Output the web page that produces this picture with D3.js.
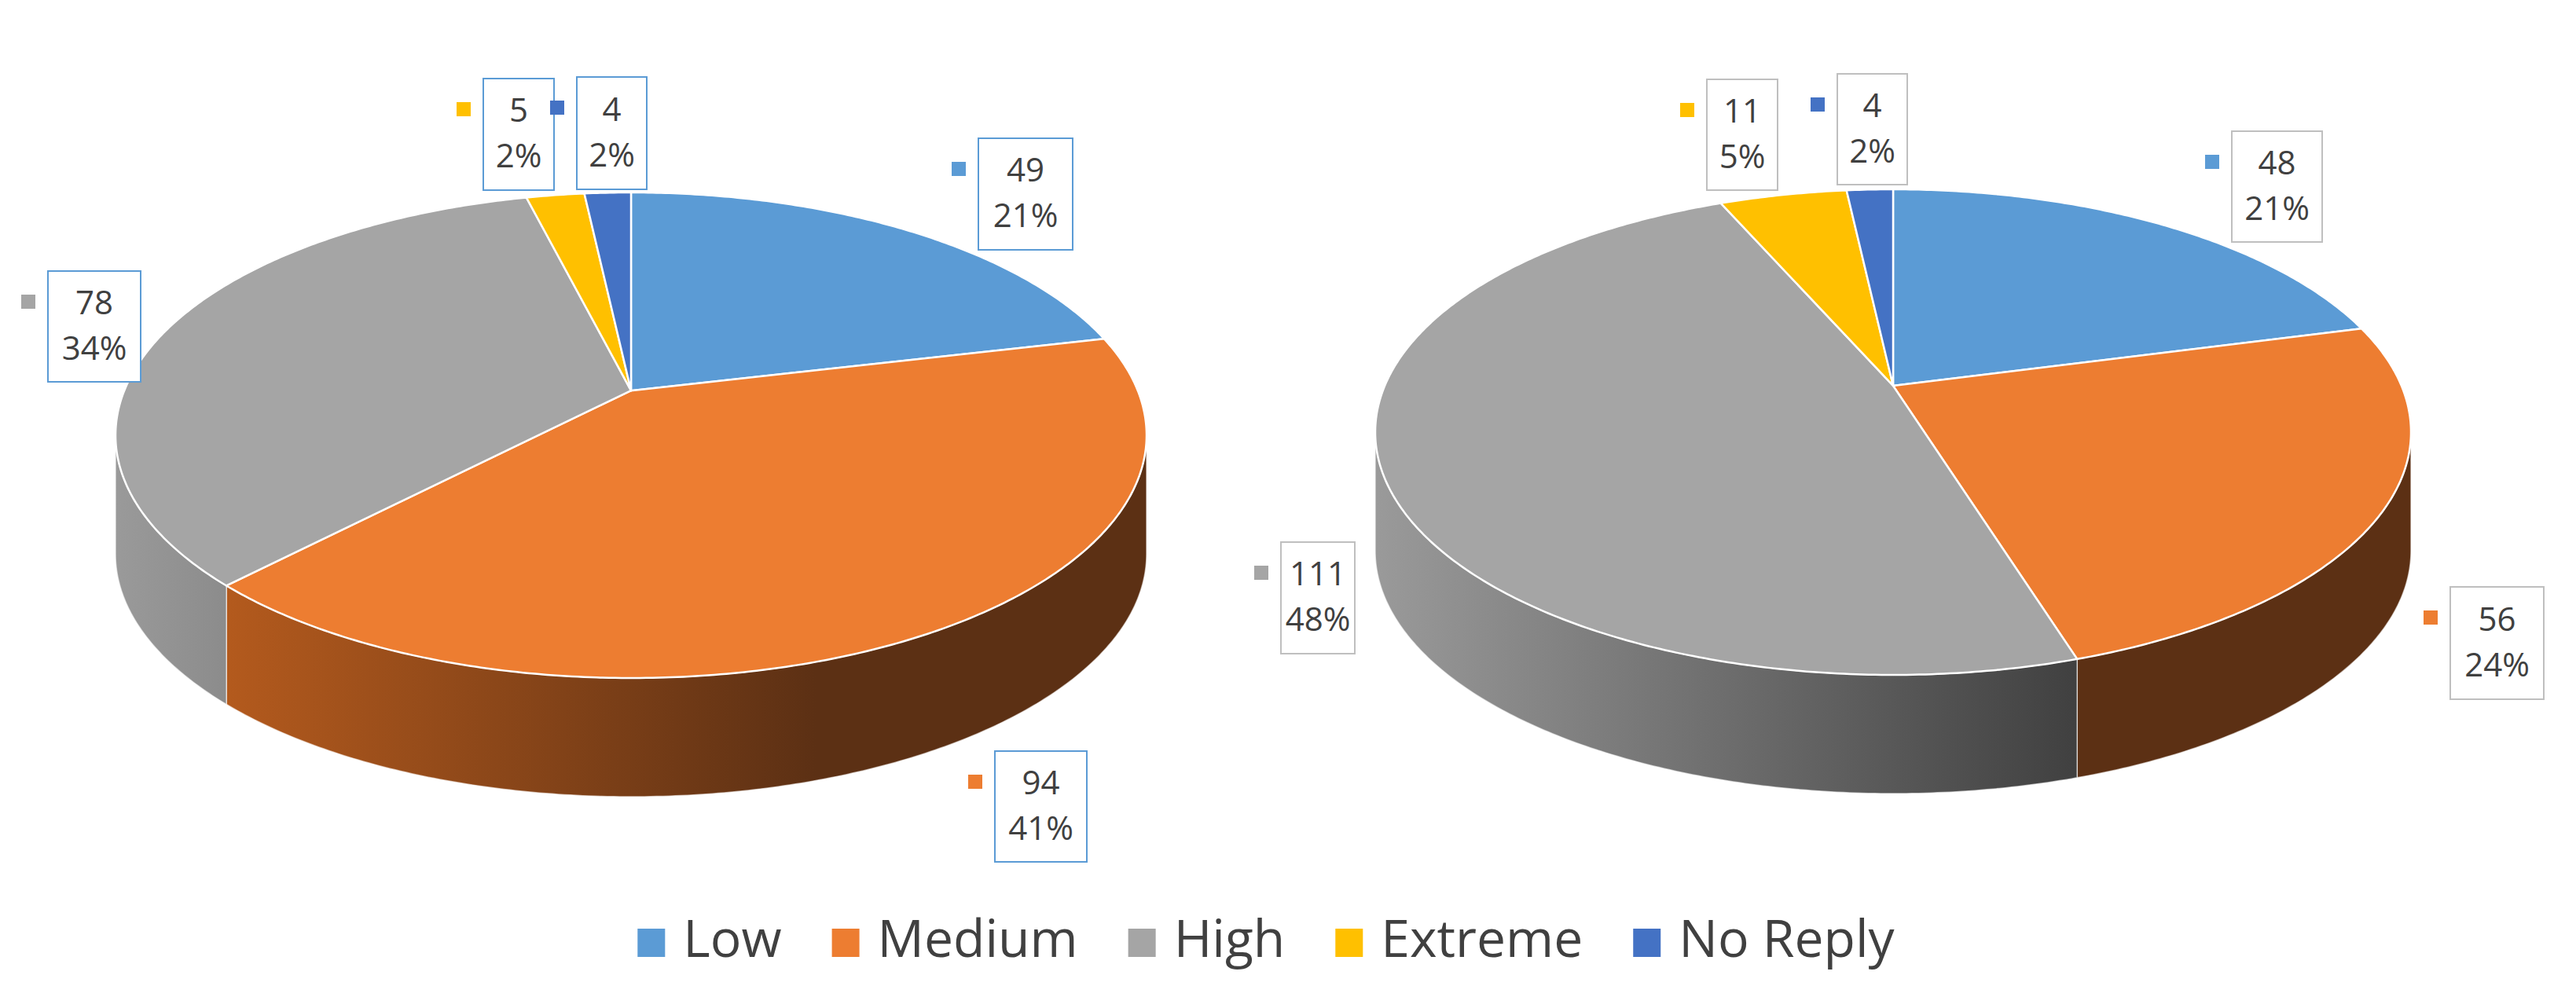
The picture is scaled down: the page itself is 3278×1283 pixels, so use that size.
<!DOCTYPE html>
<html lang="en"><head>
<meta charset="utf-8">
<title>Pie charts</title>
<script src="https://cdnjs.cloudflare.com/ajax/libs/d3/7.8.5/d3.min.js"></script>
<style>
  body { margin: 0; background: #fff; }
  text { font-family: "Open Sans", sans-serif; fill: #404040; }
</style>
</head>
<body>
<svg id="chart" width="3278" height="1283"></svg>
<script>
// data
const categories = ["Low", "Medium", "High", "Extreme", "No Reply"]
const colors = ["#5b9bd5", "#ed7d31", "#a5a5a5", "#ffc000", "#4472c4"]
const leftValues = [49, 94, 78, 5, 4]
const rightValues = [48, 56, 111, 11, 4]
const leftPercents = ["21%", "41%", "34%", "2%", "2%"]
const rightPercents = ["21%", "24%", "48%", "5%", "2%"]

// per-chart layout: ellipse, perspective shift, depth and label boxes [x, y, w, h]
const pies = [
  {values: leftValues, percents: leftPercents, cx: 803, cy: 554, rx: 656, ry: 309, k: -0.184,
   depth: 151, border: "#5b9bd5", gx0: 146, gx1: 1459,
   boxes: [[1245,176,120,142],[1266,956,117,141],[61,345,118,141],[615,100,90,142],[734,98,89,143]]},
  {values: rightValues, percents: rightPercents, cx: 2409, cy: 550, rx: 659, ry: 309, k: -0.191,
   depth: 151, border: "#bfbfbf", gx0: 1750, gx1: 3068,
   boxes: [[2840,167,115,141],[3118,747,119,143],[1630,690,94,142],[2172,101,90,141],[2338,94,89,141]]}
]
const sideLight = {"#ed7d31": "#c4621f", "#a5a5a5": "#9a9a9a", "#5b9bd5": "#3f78ad", "#ffc000": "#c79600", "#4472c4": "#2f5597"}
const sideDark = {"#ed7d31": "#5c3014", "#a5a5a5": "#404040", "#5b9bd5": "#24476a", "#ffc000": "#7a5c00", "#4472c4": "#1c3461"}

const svg = d3.select("#chart")
const defs = svg.append("defs")
const line = d3.line()
const pie = d3.pie().sort(null)

// projected point of the pie's rim (tilted circle seen in perspective)
function pt(p, a, dy) {
  const u = Math.sin(a), v = -Math.cos(a), k = p.k
  const den = 1 + k * v
  return [p.cx + p.rx * u * Math.sqrt(1 - k * k) / den, p.cy + p.ry * (v + k) / den + dy]
}
function arcPts(p, a0, a1, dy) {
  const n = Math.max(2, Math.ceil((a1 - a0) / 0.01))
  return d3.range(n + 1).map(i => pt(p, a0 + (a1 - a0) * i / n, dy))
}

pies.forEach((p, pi) => {
  const arcs = pie(p.values)
  const g = svg.append("g")
  const apex = [p.cx, p.cy + p.ry * p.k]
  const frontA0 = Math.acos(p.k), frontA1 = 2 * Math.PI - Math.acos(p.k)

  colors.forEach((c, ci) => {
    const gr = defs.append("linearGradient").attr("id", `side${pi}_${ci}`)
      .attr("gradientUnits", "userSpaceOnUse")
      .attr("x1", p.gx0).attr("x2", p.gx1).attr("y1", 0).attr("y2", 0)
    gr.append("stop").attr("offset", 0).attr("stop-color", sideLight[c])
    gr.append("stop").attr("offset", 0.68).attr("stop-color", sideDark[c])
    gr.append("stop").attr("offset", 1).attr("stop-color", sideDark[c])
  })

  // side walls (visible front part only)
  arcs.forEach((d, i) => {
    const a0 = Math.max(d.startAngle, frontA0)
    const a1 = Math.min(d.endAngle, frontA1)
    if (a1 <= a0) return
    const top = arcPts(p, a0, a1, 0)
    const bot = arcPts(p, a0, a1, p.depth).reverse()
    g.append("path").attr("d", line(top.concat(bot)) + "Z")
      .attr("fill", `url(#side${pi}_${i})`)
      .attr("stroke", "#fff").attr("stroke-width", 1.5).attr("stroke-opacity", 0.6)
  })

  // top faces
  arcs.forEach((d, i) => {
    const pts = [apex].concat(arcPts(p, d.startAngle, d.endAngle, 0))
    g.append("path").attr("d", line(pts) + "Z")
      .attr("fill", colors[i]).attr("stroke", "#fff").attr("stroke-width", 2.5)
      .attr("stroke-linejoin", "round")
  })

  // labels
  p.boxes.forEach((b, i) => {
    const [x, y, w, h] = b
    g.append("rect").attr("x", x).attr("y", y).attr("width", w).attr("height", h)
      .attr("fill", "#fff").attr("stroke", p.border).attr("stroke-width", 2)
    g.append("rect").attr("x", x - 34).attr("y", y + 30).attr("width", 18).attr("height", 18)
      .attr("fill", colors[i])
    g.append("text").attr("x", x + w / 2).attr("y", y + h * 0.31)
      .attr("text-anchor", "middle").attr("dominant-baseline", "middle")
      .attr("font-size", 42).text(p.values[i])
    g.append("text").attr("x", x + w / 2).attr("y", y + h * 0.72)
      .attr("text-anchor", "middle").attr("dominant-baseline", "middle")
      .attr("font-size", 42).text(p.percents[i])
  })
})

// legend, centered
const legend = svg.append("g")
const items = categories.map((c, i) => {
  const it = legend.append("g")
  it.append("rect").attr("x", 0).attr("y", -18).attr("width", 35).attr("height", 36).attr("fill", colors[i])
  const t = it.append("text").attr("x", 58).attr("y", 0).attr("dominant-baseline", "middle")
    .attr("font-size", 66).text(c)
  return {it, w: 58 + t.node().getComputedTextLength()}
})
const gap = 64
const total = d3.sum(items, d => d.w) + gap * (items.length - 1)
let lx = 1611 - total / 2
items.forEach(d => {
  d.it.attr("transform", `translate(${lx},1200)`)
  lx += d.w + gap
})
</script>
</body>
</html>
